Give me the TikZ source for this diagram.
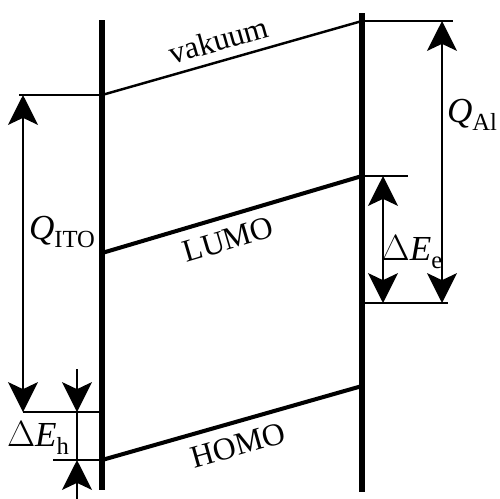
\documentclass[tikz,border=0pt]{standalone}
\usepackage{fontspec}
\setmainfont{Liberation Serif}
\usetikzlibrary{arrows.meta}
\newcommand{\symsub}[2]{#1\raisebox{-0.5ex}{\fontsize{14}{16}\selectfont #2}}
\begin{document}
\begin{tikzpicture}[x=0.02cm, y=-0.02cm,
  electrode/.style={line width=3pt},
  level/.style={line width=2.3pt},
  vaclevel/.style={line width=1.4pt},
  guide/.style={line width=1.1pt},
  dim/.style={line width=1.1pt, {Stealth[length=17pt,width=17pt,inset=4pt]}-{Stealth[length=17pt,width=17pt,inset=4pt]}},
  tip/.style={line width=1.1pt, -{Stealth[length=17pt,width=17pt,inset=4pt]}},
  lbl/.style={font=\fontsize{18}{20}\selectfont, inner sep=2pt},
  qlbl/.style={font=\fontsize{20}{22}\selectfont, inner sep=1pt}]
  \useasboundingbox (0,0) rectangle (500,498);
  % electrodes
  \coordinate (ito top) at (102,20);
  \coordinate (ito bot) at (102,490);
  \coordinate (al top) at (362,13);
  \coordinate (al bot) at (362,492);
  \draw[electrode] (ito top) -- (ito bot);
  \draw[electrode] (al top) -- (al bot);
  % level ends
  \coordinate (vacL) at (102,95);
  \coordinate (vacR) at (362,21);
  \coordinate (lumoL) at (102,253);
  \coordinate (lumoR) at (362,176);
  \coordinate (homoL) at (102,460);
  \coordinate (homoR) at (362,386);
  \draw[vaclevel] (vacL) -- (vacR) node[lbl, pos=0.47, sloped, above=3pt] (vaclab) {vakuum};
  \draw[level] (lumoL) -- (lumoR) node[lbl, pos=0.46, sloped, below=4pt] (lumolab) {LUMO};
  \draw[level] (homoL) -- (homoR) node[lbl, pos=0.5, sloped, below=4pt] (homolab) {HOMO};
  % guide lines, left
  \coordinate (g1) at (19,95);
  \coordinate (g2a) at (23,412);
  \coordinate (g2b) at (100,412);
  \coordinate (g3) at (53,460);
  \draw[guide] (g1) -- (vacL);
  \draw[guide] (g2a) -- (g2b);
  \draw[guide] (g3) -- (homoL);
  % guide lines, right
  \coordinate (r1) at (453,21);
  \coordinate (r2) at (408,176);
  \coordinate (r3a) at (362,303);
  \coordinate (r3b) at (448,303);
  \draw[guide] (vacR) -- (r1);
  \draw[guide] (lumoR) -- (r2);
  \draw[guide] (r3a) -- (r3b);
  % dimensions
  \coordinate (qi1) at (23,95);
  \coordinate (qi2) at (23,412);
  \draw[dim] (qi1) -- (qi2);
  \node[qlbl] (qito) at (62,232) {\symsub{\textit{Q}}{ITO}};
  \coordinate (eh0) at (77,369);
  \coordinate (eh1) at (77,412);
  \coordinate (eh2) at (77,460);
  \coordinate (eh3) at (77,500);
  \draw[tip] (eh0) -- (eh1);
  \draw[guide] (eh1) -- (eh2);
  \draw[tip] (eh3) -- (eh2);
  \node[qlbl] (dEh) at (38,438) {\symsub{$\Delta$\textit{E}}{h}};
  \coordinate (ee1) at (383,176);
  \coordinate (ee2) at (383,303);
  \draw[dim] (ee1) -- (ee2);
  \node[qlbl] (dEe) at (412,252) {\symsub{$\Delta$\textit{E}}{e}};
  \coordinate (qa1) at (442,21);
  \coordinate (qa2) at (442,303);
  \draw[dim] (qa1) -- (qa2);
  \node[qlbl] (qal) at (472,115) {\symsub{\textit{Q}}{Al}};
\end{tikzpicture}
\end{document}
